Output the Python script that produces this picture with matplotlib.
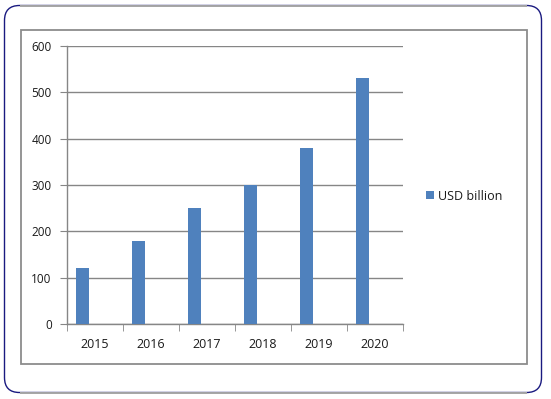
import matplotlib
matplotlib.use("Agg")
import matplotlib.pyplot as plt
from matplotlib.patches import FancyBboxPatch, Rectangle
import numpy as np

years = ["2015", "2016", "2017", "2018", "2019", "2020"]
usd_billion = [120, 180, 250, 300, 380, 530]
series_name = "USD billion"

W, H = 551, 399
plt.rcParams['font.family'] = ['Open Sans', 'DejaVu Sans']
fig = plt.figure(figsize=(W / 100, H / 100), dpi=100)

def fx(x):
    return x / W

def fy(y):
    return 1 - y / H

# background axes in pixel coordinates
bg = fig.add_axes([0, 0, 1, 1], zorder=0)
bg.set_xlim(0, W)
bg.set_ylim(H, 0)
bg.axis("off")

r = 15
L, R, T, B = 4.5, 541.5, 5.5, 392.5
outer = FancyBboxPatch((L + r, T + r), (R - L) - 2 * r, (B - T) - 2 * r,
                       boxstyle=f"round,pad={r}", facecolor="white",
                       edgecolor="#1a1a80", linewidth=1.0)
bg.add_patch(outer)
for yy in (T, B):
    bg.plot([L + r, R - r], [yy, yy], color="#a6a6a6", linewidth=1.4, solid_capstyle="butt")

inner = Rectangle((20.5, 29.5), 506, 334, facecolor="white", edgecolor="#8c8c8c", linewidth=1.3)
bg.add_patch(inner)

ax = fig.add_axes([fx(67), fy(324), fx(403 - 67), (324 - 46) / H], zorder=1)
ax.set_facecolor("none")
x = np.arange(len(years))
ax.bar(x - 0.22, usd_billion, width=0.225, color="#4f81bd", label=series_name, zorder=3)

ax.set_xlim(-0.5, len(years) - 0.5)
ax.set_ylim(0, 600)
ax.set_yticks(range(0, 601, 100))
ax.yaxis.grid(True, color="#868686", linewidth=1.0)
ax.set_axisbelow(True)
for s in ("top", "right"):
    ax.spines[s].set_visible(False)
for s in ("left", "bottom"):
    ax.spines[s].set_color("#868686")
    ax.spines[s].set_linewidth(1.0)

ax.set_xticks(x)
ax.set_xticklabels(years)
ax.set_xticks(np.arange(-0.5, len(years)), minor=True)
ax.tick_params(axis="x", which="major", length=0, pad=10, labelsize=9, colors="#1a1a1a")
ax.tick_params(axis="x", which="minor", length=5, direction="out", color="#868686")
ax.tick_params(axis="y", length=5, direction="out", color="#868686", labelcolor="#1a1a1a",
               pad=6, labelsize=8.5)

leg = ax.legend(loc="center left",
                bbox_to_anchor=((426 - 67) / (403 - 67), (324 - 196) / (324 - 46)),
                frameon=False, fontsize=9, handlelength=0.65, handleheight=0.65,
                handletextpad=0.3, borderpad=0, borderaxespad=0, labelcolor="#1a1a1a")

fig.savefig("out.png", dpi=100)
